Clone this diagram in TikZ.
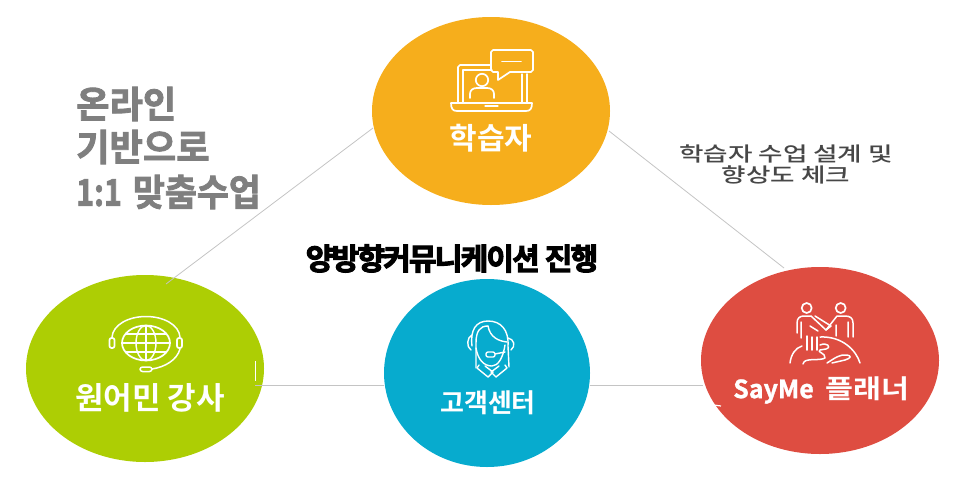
\documentclass[tikz,border=0pt]{standalone}
\usepackage{graphicx}
\usepackage{fontspec}
\setmainfont{Noto Sans CJK KR}
\newfontfamily\kr{Noto Sans CJK KR Medium}
\newfontfamily\krb{Noto Sans CJK KR Bold}
\newfontfamily\krw{Noto Sans CJK KR Bold}[FakeBold=2.2]
\newfontfamily\krs{Noto Sans CJK KR Bold}[FakeBold=1.2]
\newfontfamily\krt{Noto Sans CJK KR Bold}[LetterSpace=-6,FakeBold=3.5]
\usetikzlibrary{shapes.geometric}
\definecolor{cyellow}{HTML}{F6AE1C}
\definecolor{cgreen}{HTML}{ADCE04}
\definecolor{cblue}{HTML}{07ABCE}
\definecolor{cred}{HTML}{DE4D41}
\definecolor{ctitle}{HTML}{7F7F7F}
\definecolor{cline}{HTML}{C4C4C4}
\tikzset{
  x=1pt,y=-1pt,
  hub/.style={ellipse,inner sep=0pt,outer sep=0pt,draw=none},
  link/.style={draw=cline,line width=0.8pt},
  icon/.style={draw=white,line width=1.7pt,line cap=round,line join=round,fill=none},
  hubtext/.style={text=white,inner sep=0pt,anchor=center},
  gtitle/.style={text=ctitle,inner sep=0pt,anchor=west}
}
\begin{document}
\begin{tikzpicture}
\useasboundingbox (0,0) rectangle (966,479);
% hubs
\node[hub,fill=cyellow,minimum width=238pt,minimum height=188pt] (learner) at (491,111) {};
\node[hub,fill=cgreen,minimum width=238pt,minimum height=187pt] (teacher) at (145,368.5) {};
\node[hub,fill=cblue,minimum width=206pt,minimum height=188pt] (center) at (487,373) {};
\node[hub,fill=cred,minimum width=238pt,minimum height=187pt] (planner) at (820,360.5) {};
% connector free ends
\coordinate (tEnd) at (166,284);
\coordinate (pEnd) at (784,268);
\coordinate (tR) at (255,385);
\coordinate (cL) at (384,385);
\coordinate (cR) at (590,385.5);
\coordinate (pL) at (703,385.5);
\coordinate (lL) at (373,128);
\coordinate (lR) at (609,131);
\draw[link] (lL) -- (tEnd);
\draw[link] (lR) -- (pEnd);
\draw[link] (tR) -- (cL);
\draw[link] (cR) -- (pL);
% artefacts at circle edges
\draw[white,line width=1pt] (255,361) -- (255,381);
\draw[white,line width=1.2pt] (714,405) -- (721,406);
% laptop icon
\draw[icon] (491,65) -- (460,65) -- (458,67) -- (458,102);
\draw[icon,line width=1.3pt] (492,70) -- (463,70) -- (463,102);
\draw[icon] (527,74) -- (527,102);
\draw[icon,line width=1.3pt] (522,74) -- (522,102);
\draw[icon] (451,103) -- (532,103) .. controls (532,109) and (530,111) .. (526,111) -- (457,111) .. controls (453,111) and (451,109) .. (451,103) -- cycle;
\draw[icon,line width=1.3pt] (485,106) -- (498,106);
\draw[icon] (493,50) -- (531,50) -- (533,52) -- (533,70) -- (531,72) -- (510,72) -- (498,80) -- (498,72) -- (493,72) -- (491,70) -- (491,52) -- cycle;
\draw[icon] (502,61.5) -- (521,61.5);
\draw[icon] (482,80) circle[radius=6.2];
\draw[icon] (470,98) -- (470,94) .. controls (470,90) and (473,88) .. (477,88) -- (487,88) .. controls (491,88) and (494,90) .. (494,94) -- (494,98);
% learner label
\node[hubtext,font=\krb\fontsize{30}{30}\selectfont] (learnerText) at (491,138) {학습자};
% globe icon
\draw[icon] (146,343) ellipse[x radius=24,y radius=17.5];
\draw[icon,line width=1.4pt] (146,343) ellipse[x radius=10,y radius=17.5];
\draw[icon,line width=1.4pt] (146,325.5) -- (146,360.5);
\draw[icon,line width=1.4pt] (122,343) -- (170,343);
\draw[icon,line width=1.4pt] (126,334) -- (166,334);
\draw[icon,line width=1.4pt] (126,352) -- (166,352);
\draw[icon,line width=1.5pt] (112,337) .. controls (113,325) and (128,316.5) .. (146,316.5) .. controls (164,316.5) and (179,325) .. (180,337);
\draw[icon,rounded corners=2pt] (109.5,338) rectangle (114.5,348);
\draw[icon,rounded corners=2pt] (177,338) rectangle (182,348);
\draw[icon,line width=1.5pt] (180,349) .. controls (177,360) and (165,367) .. (152,369);
\draw[icon,rounded corners=2.5pt,line width=1.5pt] (140,367) rectangle (152,371.5);
\node[hubtext,font=\krb\fontsize{31}{31}\selectfont] (teacherText) at (150,398) {원어민 강사};
% agent icon
\draw[icon,line width=1.4pt] (476,368) -- (476,343) .. controls (476,331) and (480,326) .. (488,326);
\draw[icon,line width=1.4pt] (472,346) .. controls (470,330) and (476,321) .. (488,321) .. controls (501,321) and (509,330) .. (508,346) -- (509,367);
\draw[icon,line width=1.4pt] (488,326) .. controls (490,337) and (498,341) .. (507,342);
\draw[icon,line width=1.4pt] (476,348) .. controls (478,360) and (484,366) .. (492,366) .. controls (498,366) and (503,358) .. (505,345);
\draw[icon,line width=1.4pt] (472,335) .. controls (467,337) and (466,347) .. (471,350);
\draw[icon,line width=1.4pt] (508,338) .. controls (514,339) and (516,346) .. (511,350);
\draw[icon,line width=1.4pt] (495,354) -- (505,352);
\draw[icon,rounded corners=2pt,line width=1.4pt] (486,352) rectangle (495,357);
\draw[icon,line width=1.4pt] (479,365) -- (477,368) -- (488,377) -- (493,372) -- (485,366);
\draw[icon,line width=1.4pt] (505,365) -- (507,368) -- (496,377) -- (491,372) -- (499,366);
\node[hubtext,font=\krb\fontsize{26}{26}\selectfont] (centerText) at (488,403) {고객센터};
% people icon
\draw[icon] (806.7,308) circle[radius=5];
\draw[icon] (840.7,308) circle[radius=5];
\draw[icon,line width=1.5pt] (797,333) -- (797,323) .. controls (797,318) and (800,316) .. (804,316) -- (811,316) -- (826,330) -- (831,326) -- (815,316);
\draw[icon,line width=1.5pt] (826,330) -- (837,316) -- (845,316) .. controls (850,316) and (853,318) .. (853,323) -- (853,337);
\draw[icon,line width=1.5pt] (801,322) -- (801,338) (848,322) -- (848,337) (836,325) -- (836,336) (810,326) -- (818,331);
\draw[icon,line width=1.5pt] (807,336) -- (807,350) (812,337) -- (812,350) (817,337) -- (817,350);
\draw[icon,line width=1.5pt] (790,363) .. controls (791,355) and (795,348) .. (802,346);
\draw[icon,line width=1.5pt] (820,337) .. controls (842,336) and (856,350) .. (860,363);
\draw[icon,line width=1.5pt] (820,345) .. controls (827,342) and (832,347) .. (826,349) -- (820,350) .. controls (816,352) and (826,353) .. (825,358) .. controls (820,361) and (807,358) .. (804,362) -- (803,364);
\draw[icon,line width=1.5pt] (827,363) .. controls (835,358) and (840,354) .. (847,355) .. controls (852,356) and (851,358) .. (845,360) -- (832,363);
\node[hubtext,font=\krs\fontsize{25}{25}\selectfont] (plannerText) at (821.5,390) {SayMe\hspace{12pt}\scalebox{1.17}[1]{\krb\fontsize{26}{26}\selectfont 플래너}};
% free labels
\node[gtitle,font=\krw\fontsize{37}{37}\selectfont] (titleA) at (76,104) {\scalebox{0.98}[1]{온라인}};
\node[gtitle,font=\krw\fontsize{37}{37}\selectfont] (titleB) at (76,147) {\scalebox{0.98}[1]{기반으로}};
\node[gtitle,font=\krw\fontsize{37}{37}\selectfont] (titleC) at (76,192) {\scalebox{0.82}[1]{1:1}\hspace{11pt}\scalebox{0.94}[1]{맞춤수업}};
\node[inner sep=0pt,text=black,font=\krt\fontsize{30}{30}\selectfont] (mid) at (452,258.5) {양방향커뮤니케이션 진행};
\node[inner sep=0pt,text=black!72,font=\kr\fontsize{20}{20}\selectfont] (noteA) at (786,154) {\scalebox{1.33}[1]{학습자 수업 설계 및}};
\node[inner sep=0pt,text=black!72,font=\kr\fontsize{20}{20}\selectfont] (noteB) at (786,175) {\scalebox{1.33}[1]{향상도 체크}};
\end{tikzpicture}
\end{document}
